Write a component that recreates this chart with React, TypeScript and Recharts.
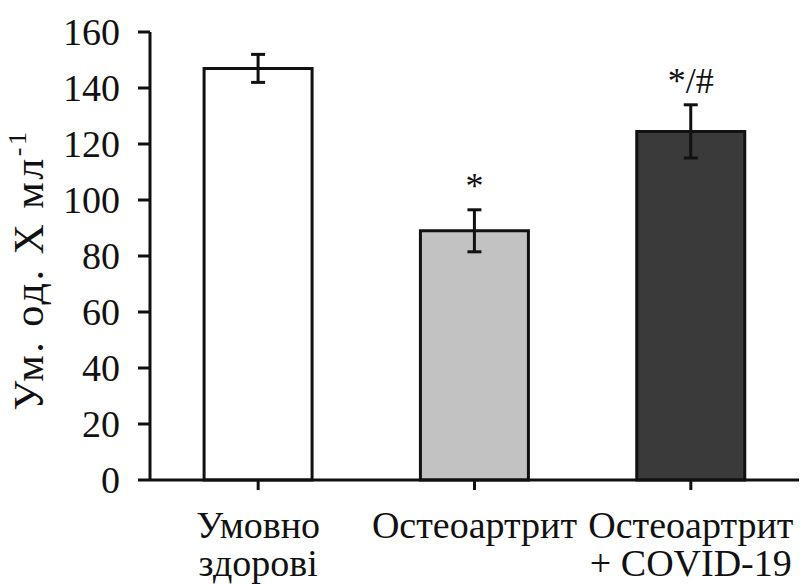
import React from "react";
import { BarChart, Bar, XAxis, YAxis, ErrorBar, Cell, LabelList } from "recharts";

const categories = [["Умовно", "здорові"], ["Остеоартрит", ""], ["Остеоартрит", "+ COVID-19"]];
const values = [147, 89, 124.5];
const errors = [5, 7.5, 9.5];
const marks = ["", "*", "*/#"];
const fills = ["#ffffff", "#c2c2c2", "#3a3a3a"];
const yTicks = [0, 20, 40, 60, 80, 100, 120, 140, 160];

const data = categories.map((c, i) => ({
  name: c.join(" "),
  value: values[i],
  err: errors[i],
  mark: marks[i],
}));

const FONT = "Liberation Serif";

function CategoryTick(props: any) {
  const { x, y, index } = props;
  const lines = categories[index] || [];
  return (
    <text x={x} y={y} textAnchor="middle" fontFamily={FONT} fontSize={38} fill="#111">
      <tspan x={x} dy={46}>{lines[0]}</tspan>
      {lines[1] ? <tspan x={x} dy={38}>{lines[1]}</tspan> : null}
    </text>
  );
}

function YLabel() {
  return (
    <text
      x={0}
      y={0}
      transform="translate(43,270) rotate(-90)"
      textAnchor="middle"
      fontFamily={FONT}
      fontSize={42}
      letterSpacing={2.5}
      fill="#111"
    >
      Ум. од. Х мл<tspan fontSize={26} dy={-17}>-1</tspan>
    </text>
  );
}

function MarkLabel(props: any) {
  const { x, y, width, height, index } = props;
  const m = marks[index];
  if (!m) return null;
  // bar top is y, bar height covers values[index]; error cap sits errors[index] above
  const pxPerUnit = height / values[index];
  const capY = y - errors[index] * pxPerUnit;
  return (
    <text x={x + width / 2} y={capY - 12} textAnchor="middle" fontFamily={FONT} fontSize={36} fill="#111">
      {m}
    </text>
  );
}

export default function App() {
  return (
    <div style={{ position: "absolute", left: 0, top: 0, width: 805, height: 584, background: "#fff", fontFamily: FONT }}>
      <BarChart width={805} height={584} data={data} margin={{ top: 32, right: 6, left: 10, bottom: 0 }} barCategoryGap="25%">
        <XAxis
          dataKey="name"
          tick={<CategoryTick />}
          tickLine={{ stroke: "#111", strokeWidth: 3 }}
          axisLine={{ stroke: "#111", strokeWidth: 3 }}
          tickSize={10}
          height={104}
          interval={0}
        />
        <YAxis
          domain={[0, 160]}
          ticks={yTicks}
          width={140}
          tick={{ fontFamily: FONT, fontSize: 38, fill: "#111" }}
          tickLine={{ stroke: "#111", strokeWidth: 3 }}
          axisLine={{ stroke: "#111", strokeWidth: 3 }}
          tickSize={12}
          tickMargin={18}
          label={<YLabel />}
        />
        <Bar dataKey="value" stroke="#111" strokeWidth={3} isAnimationActive={false}>
          {data.map((d, i) => (
            <Cell key={d.name} fill={fills[i]} />
          ))}
          <ErrorBar dataKey="err" width={7} stroke="#111" strokeWidth={3} direction="y" />
          <LabelList dataKey="mark" content={<MarkLabel />} />
        </Bar>
      </BarChart>
    </div>
  );
}
